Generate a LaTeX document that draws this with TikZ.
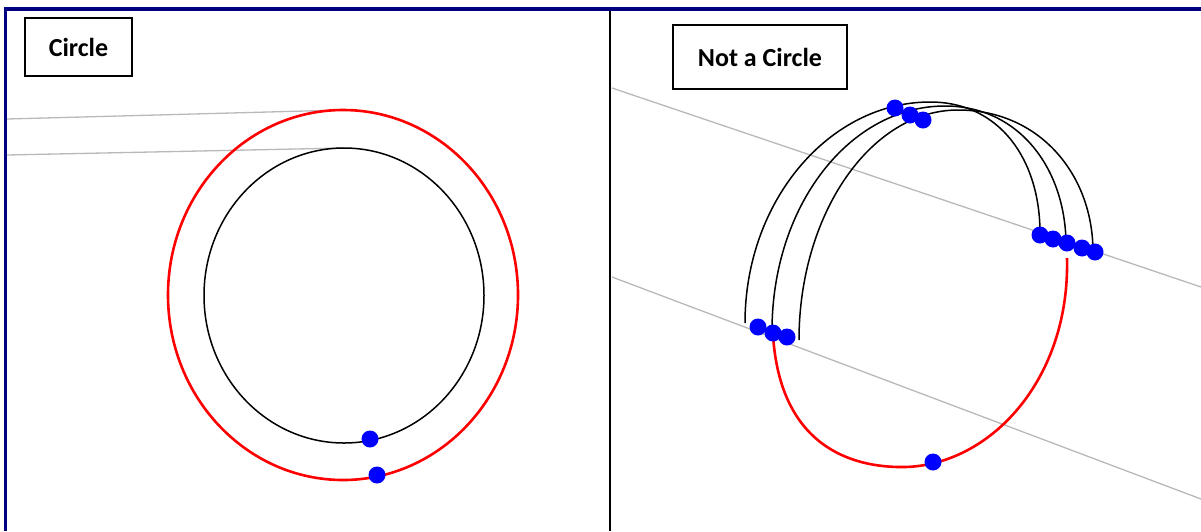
\documentclass[tikz,border=0pt]{standalone}
\usepackage{fontspec}
\setmainfont{Carlito}
\definecolor{frame}{RGB}{0,0,128}
\definecolor{guide}{RGB}{185,185,185}
\begin{document}
\begin{tikzpicture}[x=1pt,y=-1pt,
  tag/.style={draw, line width=1.8pt, inner sep=0pt, font=\fontsize{26}{30}\selectfont\bfseries},
  dot/.style={circle, fill=blue, inner sep=0pt, minimum size=17pt},
  guideline/.style={guide, line width=1.3pt},
  arc/.style={black, line width=1.5pt},
  redarc/.style={red, line width=2.6pt}]
\useasboundingbox (0,0) rectangle (1201,531);
\fill[white] (0,0) rectangle (1201,531);
\draw[frame, line width=3.5pt] (3.5,9) -- (1201,9);
\draw[frame, line width=3pt] (5.3,7.5) -- (5.3,531);
\draw[black, line width=2pt] (609.5,10.5) -- (609.5,531);
\node[tag, minimum width=107pt, minimum height=58pt] (circletag) at (78.5,47) {Circle};
\node[tag, minimum width=174pt, minimum height=64pt] (notcircletag) at (760,57) {Not a Circle};
\draw[guideline] (7,119) -- (343,110);
\draw[guideline] (7,155) -- (344,148);
\draw[redarc] (343,295) ellipse [x radius=175pt, y radius=185pt];
\draw[arc] (344,295.5) ellipse [x radius=140pt, y radius=147.5pt];
\node[dot] (c1) at (370,439) {};
\node[dot] (c2) at (377,475) {};
\draw[guideline] (612,88) -- (1201,287);
\draw[guideline] (612,277) -- (1201,499);
\draw[arc] (745,323) .. controls (745,200) and (830,102) .. (930,102) .. controls (1000,102) and (1040,160) .. (1040,233);
\draw[arc] (772,331) .. controls (772,205) and (850,106) .. (945,106) .. controls (1020,106) and (1066,170) .. (1066,245);
\draw[arc] (799,340) .. controls (799,215) and (870,110) .. (958,110) .. controls (1040,110) and (1093,175) .. (1093,252);
\draw[redarc] (773,335) .. controls (780,445) and (850,468) .. (905,467) .. controls (990,465) and (1070,380) .. (1067,258);
\node[dot] (l1) at (758,327) {};
\node[dot] (l2) at (773,333) {};
\node[dot] (l3) at (787,337) {};
\node[dot] (t1) at (895,108) {};
\node[dot] (t2) at (910,115) {};
\node[dot] (t3) at (923,120) {};
\node[dot] (r1) at (1040,235) {};
\node[dot] (r2) at (1053,239) {};
\node[dot] (r3) at (1067,243) {};
\node[dot] (r4) at (1082,248) {};
\node[dot] (r5) at (1095,252) {};
\node[dot] (b1) at (933,462) {};
\end{tikzpicture}
\end{document}
